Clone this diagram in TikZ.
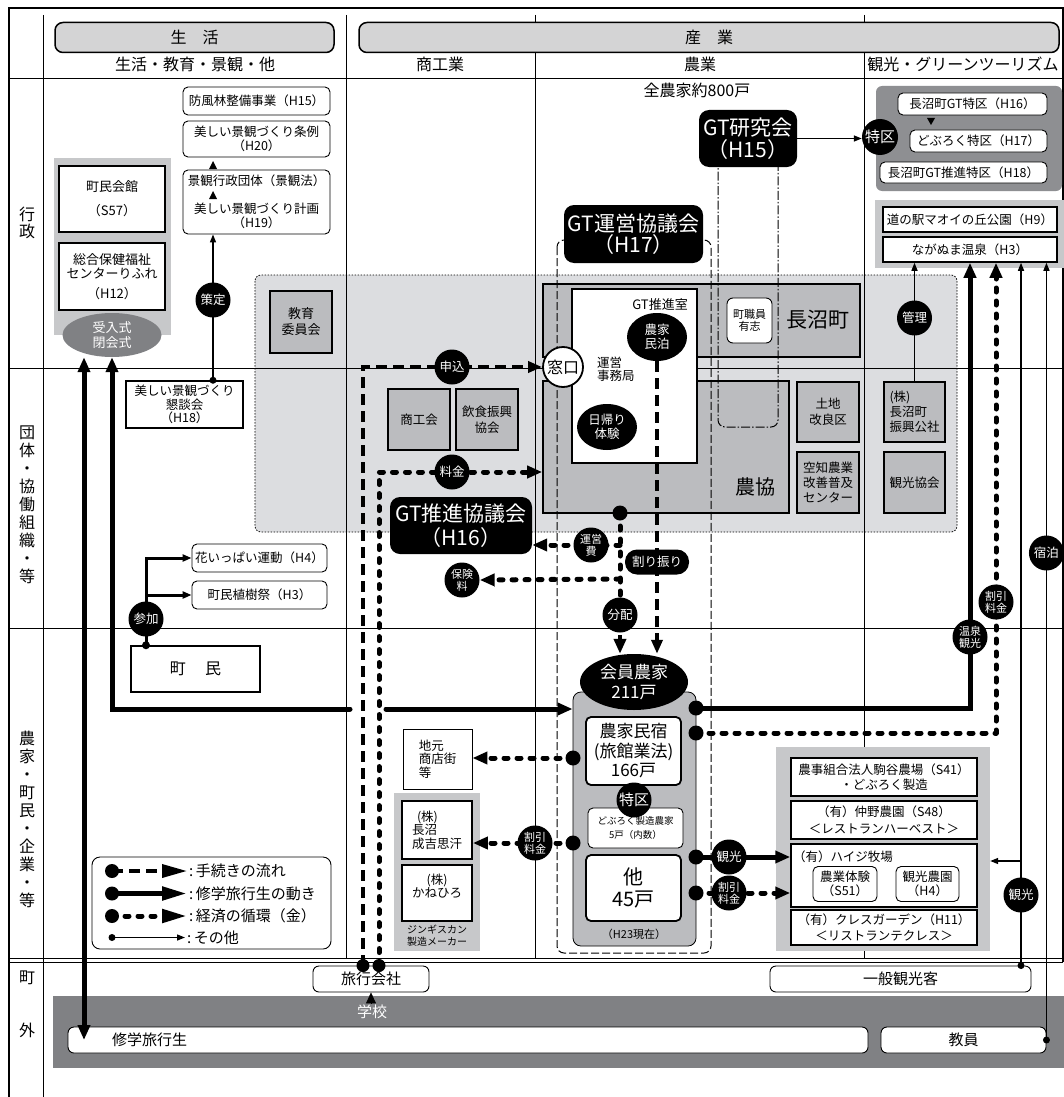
\documentclass[tikz,border=0pt]{standalone}
\usepackage{fontspec}
\setmainfont{Noto Sans CJK JP}
\usetikzlibrary{arrows.meta,shapes.geometric}

\definecolor{dotarea}{HTML}{DCDDE0}
\definecolor{panelgray}{HTML}{C7C8CA}
\definecolor{boxgray}{HTML}{BBBCBF}
\definecolor{darkpanel}{HTML}{8E8F92}
\definecolor{bandgray}{HTML}{808184}
\definecolor{hdrgray}{HTML}{D4D4D5}
\newcommand{\fsz}[2]{\fontsize{#1}{#2}\selectfont}

\begin{document}
\begin{tikzpicture}[
        x=1pt, y=-1pt,
        every node/.style={inner sep=0pt, font=\fsz{12.5}{14.5}},
        wh/.style 2 args={minimum width=#1, minimum height=#2},
        hdr/.style={draw, line width=1.5pt, fill=hdrgray, rounded corners=8pt, font=\fsz{16}{18}},
        wbox/.style={draw, line width=0.9pt, fill=white, rounded corners=5pt, align=center},
        sbox/.style={draw, line width=1.8pt, fill=white, align=center},
        gbox/.style={draw, line width=1.6pt, fill=boxgray, align=center},
        blk/.style={fill=black, text=white, rounded corners=10pt, align=center},
        lbl/.style={circle, fill=black, text=white, minimum size=35pt, align=center, font=\fsz{12.5}{13}},
        lbltwo/.style={lbl, font=\fsz{11}{12}},
        bdot/.style={circle, fill=black, minimum size=15pt},
        sdot/.style={circle, fill=black, minimum size=7pt},
        flowT/.style={line width=3.5pt, dash pattern=on 11pt off 6pt},
        flowS/.style={line width=5pt},
        flowM/.style={line width=5pt, line cap=round, line join=round, dash pattern=on 4pt off 9pt},
        flowO/.style={line width=1.4pt},
        bigtip/.style={-{Triangle[length=15pt,width=12pt]}},
        midtip/.style={-{Triangle[length=14pt,width=11pt]}},
        smtip/.style={-{Triangle[length=8pt,width=6pt]}}
    ]
    \useasboundingbox (0,0) rectangle (1064,1097);
    \fill[white] (0,0) rectangle (1064,1097);

    \draw[fill=dotarea, line width=0.8pt, dash pattern=on 1.5pt off 1.5pt, rounded corners=6pt] (255,275) rectangle (957,532);
    \fill[bandgray] (53,996) rectangle (1064,1068);

    \draw[line width=1.3pt] (9,1097) -- (9,8) -- (1063,8) -- (1063,962);
    \draw[line width=0.7pt] (43,15) -- (43,1097);
    \foreach \colx in {346,535,864}
        \draw[line width=0.7pt] (\colx,15) -- (\colx,958);
    \foreach \rowy in {78,368,628}
        \draw[line width=0.7pt] (9,\rowy) -- (1063,\rowy);
    \draw[line width=1pt] (9,958) -- (1063,958) (9,962.5) -- (1063,962.5);

    \node[fill=panelgray, wh={117}{177}] (lifepanel) at (112.5,246.5) {};
    \node[fill=darkpanel, rounded corners=6pt, wh={186}{105}] (tokkupanel) at (969,138.5) {};
    \node[fill=panelgray, wh={189}{68}] (onsenpanel) at (969.5,234) {};
    \node[fill=panelgray, wh={86}{158}] (meatpanel) at (437,872) {};
    \node[fill=panelgray, wh={214}{204}] (kankopanel) at (883,849) {};

    \node[hdr, wh={279}{30}] (seikatsu) at (194.5,37.5) {生\hspace{1em}活};
    \node[hdr, wh={700}{30}] (sangyo) at (709,37.5) {産\hspace{1em}業};
    \node[font=\fsz{16}{18}] (hdA) at (195,64) {生活・教育・景観・他};
    \node[font=\fsz{16}{18}] (hdB) at (440,64) {商工業};
    \node[font=\fsz{16}{18}] (hdC) at (700,64) {農業};
    \node[font=\fsz{16}{18}] (hdD) at (963,64) {観光・グリーンツーリズム};

    \node[align=center, font=\fsz{16}{17.5}] (rowA) at (27,223) {行\\政};
    \node[align=center, font=\fsz{16}{18}] (rowB) at (27,505) {団\\体\\・\\協\\働\\組\\織\\・\\等};
    \node[align=center, font=\fsz{16}{18}] (rowC) at (27,819) {農\\家\\・\\町\\民\\・\\企\\業\\・\\等};
    \node[font=\fsz{16}{18}] (rowD) at (27,978) {町};
    \node[font=\fsz{16}{18}] (rowE) at (27,1030) {外};

    \node[sbox, wh={106}{66}, font=\fsz{13}{15}] (kaikan) at (112,199) {町民会館\\[9pt]（S57）};
    \node[sbox, wh={106}{67}, font=\fsz{13}{14.5}] (rifure) at (112,276.5) {総合保健福祉\\センターりふれ\\[5pt]（H12）};
    \node[ellipse, fill=bandgray, text=white, wh={99}{44}, align=center, font=\fsz{13}{14.5}] (ukeire) at (112,335) {受入式\\閉会式};
    \node[wbox, wh={147}{28}] (bofu) at (256.5,101) {防風林整備事業（H15）};
    \node[wbox, wh={147}{36}, font=\fsz{12.5}{14}] (jorei) at (256.5,139) {美しい景観づくり条例\\（H20）};
    \node[wbox, wh={147}{64}, font=\fsz{12.5}{14}] (keikaku) at (256.5,202) {景観行政団体（景観法）\\\mbox{}\\美しい景観づくり計画\\（H19）};
    \node[gbox, wh={62}{62}, font=\fsz{13}{16}] (kyoiku) at (301,322) {教育\\委員会};
    \node[sbox, line width=1.5pt, wh={117}{47}, font=\fsz{12.5}{13.5}] (kondan) at (184.5,404.5) {美しい景観づくり\\懇談会\\（H18）};
    \node[wbox, wh={135}{28}] (hana) at (259.5,558) {花いっぱい運動（H4）};
    \node[wbox, wh={135}{28}] (shokuju) at (259.5,595) {町民植樹祭（H3）};
    \node[sbox, line width=1.5pt, wh={129}{46}, font=\fsz{16}{18}] (chomin) at (195.5,669) {町\hspace{1.2em}民};

    \node[wbox, rounded corners=8pt, wh={239}{92}] (legend) at (211.5,903) {};

    \node[gbox, wh={62}{61}] (shokokai) at (419,419.5) {商工会};
    \node[gbox, wh={62}{61}, font=\fsz{12.5}{16}] (inshoku) at (487,419.5) {飲食振興\\協会};
    \node[blk, wh={142}{57}, font=\fsz{21}{24}] (gtsuishin) at (461,525.5) {GT推進協議会\\（H16）};
    \node[draw, line width=0.9pt, fill=white, wh={69}{60}, align=left, font=\fsz{12.5}{13.5}] (jimoto) at (437.5,759) {地元\\商店街\\等};
    \node[sbox, wh={70}{58}, align=left, font=\fsz{12.5}{13.5}] (seikichi) at (437,830) {\hspace{0.4em}(株)\\長沼\\成吉思汗};
    \node[sbox, wh={70}{56}] (kanehiro) at (437,893) {};
    \node[align=center, font=\fsz{12.5}{13.5}] (kanehiroT) at (437,886) {(株)\\かねひろ};
    \node[align=center, font=\fsz{10}{12}] (jingis) at (437,936) {ジンギスカン\\製造メーカー};

    \node[font=\fsz{16}{18}] (zennoka) at (697,90) {全農家約800戸};
    \node[gbox, wh={317}{73}] (naganuma) at (701.5,320.5) {};
    \node[font=\fsz{21}{23}] (naganumaT) at (818,320) {長沼町};
    \node[gbox, wh={246}{132}] (nokyo) at (666,447) {};
    \node[font=\fsz{20}{22}] (nokyoT) at (755,487) {農協};
    \node[wbox, rounded corners=6pt, wh={45}{45}, font=\fsz{11}{12.5}] (shokuin) at (749.5,320.5) {町職員\\有志};

    \draw[line width=1pt, dash pattern=on 8pt off 3pt, rounded corners=7pt] (557,240) rectangle (711,953);
    \draw[line width=1pt, dash pattern=on 9pt off 2pt on 1.5pt off 2pt, rounded corners=7pt] (718,150) rectangle (778,427);

    \node[sbox, line width=1.6pt, wh={125}{174}] (suishin) at (634.5,376) {};
    \node[font=\fsz{13}{15}] (suishinT) at (660,305) {GT推進室};
    \node[ellipse, fill=black, text=white, wh={60}{48}, align=center, font=\fsz{12.5}{14}] (minpaku) at (657,337) {農家\\民泊};
    \node[align=left, font=\fsz{12.5}{13}, anchor=west] (jimukyoku) at (597,369) {運営\\事務局};
    \node[ellipse, fill=black, text=white, wh={60}{46}, align=center, font=\fsz{12.5}{14}] (higaeri) at (607,427) {日帰り\\体験};
    \node[circle, draw, line width=1.8pt, fill=white, minimum size=40pt, font=\fsz{16}{16}] (madoguchi) at (563,367) {窓口};

    \node[blk, wh={98}{57}, font=\fsz{21}{22}] (gtkenkyu) at (748,138.5) {GT研究会\\（H15）};
    \node[blk, wh={139}{58}, font=\fsz{21}{21.5}] (gtunei) at (633.5,234) {GT運営協議会\\（H17）};

    \node[draw, line width=0.8pt, fill=boxgray, rounded corners=8pt, wh={123}{254}] (nokapanel) at (634.5,819) {};
    \node[sbox, rounded corners=5pt, wh={95}{68}, font=\fsz{17}{19.5}] (minshuku) at (633.5,751) {農家民宿\\(旅館業法)\\166戸};
    \node[wbox, wh={95}{40}, font=\fsz{9.5}{13.5}] (doburoku) at (635.5,828) {どぶろく製造農家\\5戸（内数）};
    \node[sbox, rounded corners=5pt, wh={95}{66}, font=\fsz{20}{21.5}] (hoka) at (633.5,888) {他\\45戸};
    \node[font=\fsz{11}{12}] (genzai) at (634,934) {（H23現在）};
    \node[ellipse, fill=black, text=white, wh={108}{56}, align=center, font=\fsz{17}{20}] (kainou) at (634,682) {会員農家\\211戸};
    \node[lbl, font=\fsz{15}{16}] (tokkuB) at (634,800) {特区};

    \node[wbox, wh={149}{22}] (tokku16) at (972.5,104) {長沼町GT特区（H16）};
    \node[wbox, wh={137}{22}] (tokku17) at (978.5,141) {どぶろく特区（H17）};
    \node[wbox, wh={167}{21}] (tokku18) at (963.5,172.5) {長沼町GT推進特区（H18）};
    \node[lbl, minimum size=36pt, font=\fsz{15}{16}] (tokkuA) at (880,137) {特区};
    \node[sbox, line width=1.5pt, wh={174}{25}] (michi) at (970,219.5) {道の駅マオイの丘公園（H9）};
    \node[sbox, line width=1.5pt, wh={174}{25}] (onsen) at (970,249.5) {ながぬま温泉（H3）};
    \node[gbox, wh={61}{60}, align=left, font=\fsz{12.5}{15}] (kosha) at (914.5,412) {(株)\\長沼町\\振興公社};
    \node[gbox, wh={61}{61}] (kankoK) at (914.5,482.5) {観光協会};
    \node[gbox, wh={62}{60}, font=\fsz{12.5}{16}] (tochi) at (828,412) {土地\\改良区};
    \node[gbox, wh={62}{61}, font=\fsz{12.5}{15}] (sorachi) at (828,482.5) {空知農業\\改善普及\\センター};

    \node[sbox, line width=1.5pt, wh={186}{38}, font=\fsz{12.5}{15.5}] (komaya) at (884,777) {農事組合法人駒谷農場（S41）\\・どぶろく製造};
    \node[sbox, line width=1.5pt, wh={186}{38}, font=\fsz{12.5}{16.5}] (nakano) at (884,820) {（有）仲野農園（S48）\\＜レストランハーベスト＞};
    \node[sbox, line width=1.5pt, wh={186}{63}] (haiji) at (884,875.5) {};
    \node[anchor=west] (haijiT) at (793,857) {（有）ハイジ牧場};
    \node[wbox, wh={64}{35}, font=\fsz{12.5}{14}] (taiken) at (845,884) {農業体験\\（S51）};
    \node[wbox, wh={63}{35}, font=\fsz{12.5}{14}] (kanen) at (927.5,884) {観光農園\\（H4）};
    \node[sbox, line width=1.5pt, wh={186}{35}, font=\fsz{12.5}{15.5}] (kures) at (884,927.5) {（有）クレスガーデン（H11）\\＜リストランテクレス＞};

    \node[wbox, rounded corners=6pt, wh={116}{26}, font=\fsz{15}{17}] (ryoko) at (371,979) {旅行会社};
    \node[wbox, rounded corners=6pt, wh={261}{26}, font=\fsz{15}{17}] (ippan) at (900.5,979) {一般観光客};
    \node[text=white, font=\fsz{15}{17}] (gakko) at (372,1012) {学校};
    \node[wbox, rounded corners=6pt, wh={800}{26}] (shugaku) at (468,1040) {};
    \node[anchor=west, font=\fsz{15}{17}] (shugakuT) at (112,1040) {修学旅行生};
    \node[wbox, rounded corners=6pt, wh={165}{26}, font=\fsz{15}{17}] (kyoin) at (963.5,1040) {教員};

    \fill (213,161) -- (217,169) -- (209,169) -- cycle;
    \fill (213,191) -- (217,199) -- (209,199) -- cycle;
    \fill (927,118) -- (935,118) -- (931,125) -- cycle;

    \draw[flowO, smtip] (kondan.north -| 213,0) node[sdot] (dKondan) {} -- (213,300) node[lbl] (lSakutei) {策定} -- (keikaku.south -| 213,0);
    \draw[flowO, smtip] (gtkenkyu.east) -- (gtkenkyu.east -| tokkuA.west);
    \draw[flowO, smtip] (kosha.north) -- (914.5,318) node[lbl] (lKanri) {管理} -- (onsen.south -| kosha.north);

    \draw[flowT, midtip] ([xshift=-8pt]ryoko.north) -- (363,367) -- (452,367) node[lbl] (lMoushi) {申込} -- (madoguchi.west);
    \draw[flowM, bigtip] ([xshift=8pt]ryoko.north) -- (379,472) -- (452,472) node[lbl] (lRyokin) {料金} -- (nokyo.west |- 0,472);
    \node[bdot, minimum size=13pt] (dMoushi) at ([xshift=-8pt]ryoko.north) {};
    \node[bdot, minimum size=13pt] (dRyokin) at ([xshift=8pt]ryoko.north) {};

    \draw[flowT, midtip] (minpaku.south) -- (657,562) node[rectangle, rounded corners=12pt, fill=black, text=white, wh={64}{25}] (lWarifuri) {割り振り} -- (minpaku.south |- kainou.north);

    \node[bdot] (dNokyo) at (620,513) {};
    \node[lbltwo] (lHoken) at (462,580) {保険\\料};
    \draw[flowM, bigtip] (620,545) -- (591,545) node[lbltwo] (lUnei) {運営\\費} -- (gtsuishin.east |- 0,545);
    \draw[flowM, bigtip] (620,579) -- (lHoken.east);
    \draw[flowM] (dNokyo.center) -- (620,615) node[lbl] (lBunpai) {分配};
    \draw[line width=4pt, bigtip] (lBunpai.south) -- (lBunpai.south |- kainou.north);

    \draw[flowS, {Triangle[length=15pt,width=12pt]}-{Triangle[length=15pt,width=12pt]}] (ukeire.south -| 84,0) -- (shugaku.center -| 84,0);
    \draw[flowS, line cap=round, {Triangle[length=15pt,width=12pt]}-] (ukeire.south -| 112,0) -- (112,709) -- (350,709);
    \draw[flowS, line cap=round, bigtip] (386,709) -- (nokapanel.west |- 0,709);

    \node[bdot] (dOnsenS) at (696,708) {};
    \draw[flowS, bigtip] (dOnsenS.center) -- (970,708) -- (970,637) node[lbltwo] (lOnsen) {温泉\\観光} -- (onsen.south -| 970,0);
    \node[bdot] (dOnsenM) at (696,733) {};
    \draw[flowM, bigtip] (dOnsenM.center) -- (996,733) -- (996,602) node[lbltwo] (lWaribikiA) {割引\\料金} -- (onsen.south -| 996,0);
    \draw[flowO, smtip] (ippan.north -| 1021,0) node[sdot] (dIppan) {} -- (1021,895) node[lbl] (lKankoA) {観光} -- (onsen.south -| 1021,0);
    \draw[flowO, smtip] (1021,861) -- (kankopanel.east |- 0,861);
    \draw[flowO, smtip] (kyoin.east) node[sdot] (dKyoin) {} -- (kyoin.east |- 0,553) node[lbl] (lShukuhaku) {宿泊} -- (kyoin.east |- onsen.south);

    \node[bdot] (dHaijiS) at (696,857) {};
    \draw[flowS, bigtip] (dHaijiS.center) -- (729,857) node[lbl] (lKankoB) {観光} -- (haiji.west |- 0,857);
    \node[bdot] (dHaijiM) at (696,893) {};
    \draw[flowM, bigtip] (dHaijiM.center) -- (729,893) node[lbltwo] (lWaribikiB) {割引\\料金} -- (haiji.west |- 0,893);
    \node[bdot] (dJimoto) at (573,758) {};
    \draw[flowM, bigtip] (dJimoto.center) -- (jimoto.east |- 0,758);
    \node[bdot] (dSeikichi) at (573,843) {};
    \draw[flowM, bigtip] (dSeikichi.center) -- (535,843) node[lbltwo] (lWaribikiC) {割引\\料金} -- (seikichi.east |- 0,843);

    \draw[line width=3pt, -{Triangle[length=9pt,width=7pt]}] (chomin.north -| 146,0) node[sdot, minimum size=8pt] (dChomin) {} -- (146,619) node[lbl] (lSanka) {参加} -- (146,558) -- (hana.west);
    \draw[line width=3pt, -{Triangle[length=9pt,width=7pt]}] (146,595) -- (shokuju.west);

    \draw[line width=0.5pt, -{Triangle[length=11pt,width=10pt]}] (ryoko.south |- 0,1004) -- (ryoko.south);

    \node[bdot, minimum size=14pt] (lgA) at (112,871) {};
    \draw[flowT, -{Triangle[length=25pt,width=13pt]}] (lgA.center) -- (187,871);
    \node[anchor=west, font=\fsz{15}{17}] (lgAT) at (189,871) {:\,手続きの流れ};
    \node[bdot, minimum size=14pt] (lgB) at (112,893.5) {};
    \draw[flowS, -{Triangle[length=25pt,width=13pt]}] (lgB.center) -- (187,893.5);
    \node[anchor=west, font=\fsz{15}{17}] (lgBT) at (189,893.5) {:\,修学旅行生の動き};
    \node[bdot, minimum size=14pt] (lgC) at (112,916) {};
    \draw[flowM, -{Triangle[length=25pt,width=13pt]}] (lgC.center) -- (187,916);
    \node[anchor=west, font=\fsz{15}{17}] (lgCT) at (189,916) {:\,経済の循環（金）};
    \node[sdot] (lgD) at (112,937.5) {};
    \draw[flowO, smtip] (lgD.center) -- (185,937.5);
    \node[anchor=west, font=\fsz{15}{17}] (lgDT) at (187,937.5) {:\,その他};
\end{tikzpicture}
\end{document}
